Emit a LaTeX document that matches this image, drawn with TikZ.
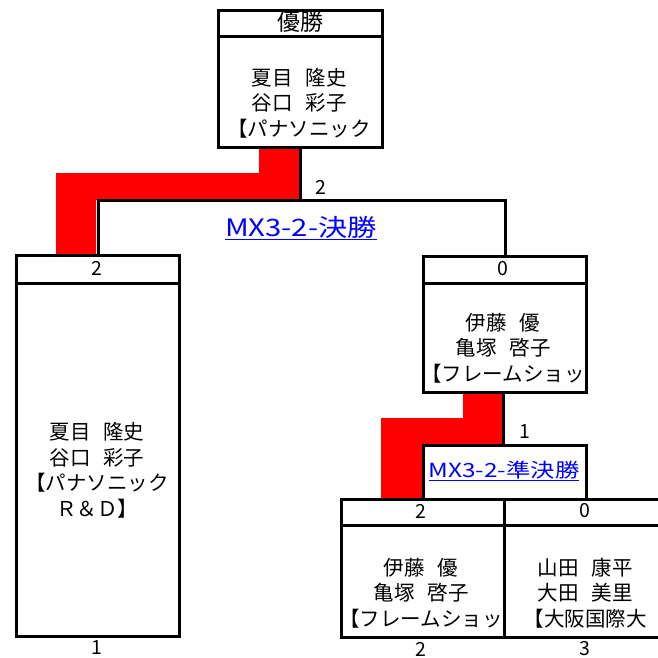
\documentclass[tikz,border=0pt]{standalone}
\usepackage{fontspec}
\setmainfont{Noto Sans CJK JP}
\newcommand\jgap{\hspace{13pt}}
\begin{document}
\begin{tikzpicture}[x=1pt,y=-1pt,
  box/.style={draw=black,line width=3pt,anchor=north west,inner sep=0pt},
  conn/.style={draw=black,line width=3pt},
  body/.style={align=center,inner sep=0pt,font=\fontsize{20.5}{25.5}\selectfont},
  hdr/.style={inner sep=0pt,font=\fontsize{19.5}{22}\selectfont},
  lnk/.style={inner sep=0pt,text=blue}]
\clip (0,0) rectangle (658,657);
\fill[white] (0,0) rectangle (658,657);
% red winner paths
\fill[red] (259,146) -- (300,146) -- (300,200) -- (96,200) -- (96,254) -- (56,254) -- (56,173) -- (259,173) -- cycle;
\fill[red] (463,391) -- (503,391) -- (503,445) -- (422,445) -- (422,498) -- (381,498) -- (381,418) -- (463,418) -- cycle;
% boxes
\node[box,minimum width=164pt,minimum height=137pt] (top) at (217,9) {};
\node[box,minimum width=163pt,minimum height=381pt] (lb) at (15,254) {};
\node[box,minimum width=163pt,minimum height=136pt] (rb) at (422,255) {};
\node[box,minimum width=163pt,minimum height=138pt] (bl) at (340,498) {};
\node[box,minimum width=164pt,minimum height=138pt] (br) at (503,498) {};
% header lines
\draw[conn] (top.west |- 0,36) -- (top.east |- 0,36);
\draw[conn] (lb.west |- 0,283) -- (lb.east |- 0,283);
\draw[conn] (rb.west |- 0,283) -- (rb.east |- 0,283);
\draw[conn] (bl.west |- 0,525) -- (br.east |- 0,525);
% headers
\node[hdr,font=\fontsize{23}{24}\selectfont] (tophdr) at (300,22) {優勝};
\node[hdr] (lbhdr) at (97,268) {2};
\node[hdr] (rbhdr) at (503,269) {0};
\node[hdr] (blhdr) at (421,511) {2};
\node[hdr] (brhdr) at (585,511) {0};
% bodies
\node[body] (topbody) at (299,103) {夏目\jgap 隆史\\谷口\jgap 彩子\\【パナソニック};
\node[body] (lbbody) at (97,470) {夏目\jgap 隆史\\谷口\jgap 彩子\\【パナソニック\\Ｒ＆Ｄ】};
\node[body] (rbbody) at (503,348) {伊藤\jgap 優\\亀塚\jgap 啓子\\【フレームショッ};
\node[body] (blbody) at (421,593) {伊藤\jgap 優\\亀塚\jgap 啓子\\【フレームショッ};
\node[body] (brbody) at (585,593) {山田\jgap 康平\\大田\jgap 美里\\【大阪国際大};
% seeds below
\node[hdr] (s1) at (97,648) {1};
\node[hdr] (s2) at (421,649) {2};
\node[hdr] (s3) at (585,649) {3};
% connectors
\coordinate (j1) at (300,200);
\coordinate (j2) at (503,445);
\draw[conn] (top.south -| j1) -- (j1);
\draw[conn] (lb.north) |- (rb.north |- j1) -- (rb.north);
\draw[conn] (rb.south -| j2) -- (j2);
\draw[conn] (bl.north) |- (br.north |- j2) -- (br.north);
% scores and links
\node[hdr] (sc1) at (321,187) {2};
\node[hdr] (sc2) at (525,432) {1};
\node[lnk,font=\fontsize{24}{26}\selectfont] (final) at (301,228) {\scalebox{1.22}[1]{\underline{MX3-2-決勝}}};
\node[lnk,font=\fontsize{19.5}{21}\selectfont] (semi) at (504,471) {\scalebox{1.25}[1]{\underline{MX3-2-準決勝}}};
\end{tikzpicture}
\end{document}
